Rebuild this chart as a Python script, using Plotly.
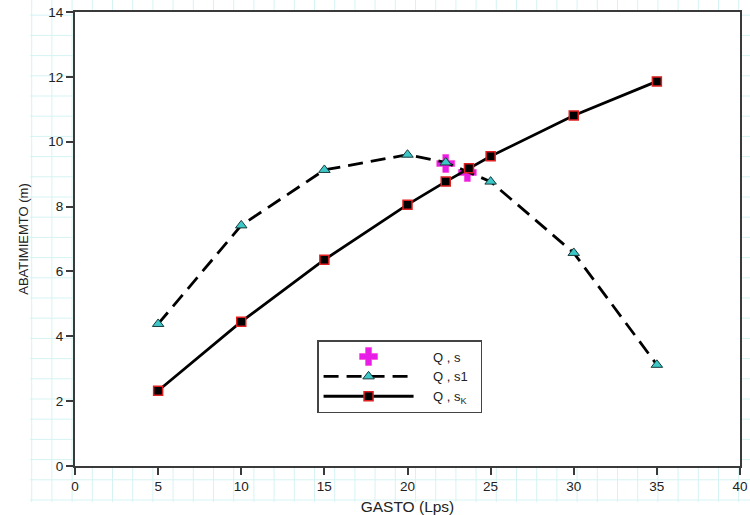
import plotly.graph_objects as go

# Data
q_s = [22.3, 23.6]
s_s = [9.33, 9.05]

q_s1 = [5, 10, 15, 20, 22.3, 25, 30, 35]
s_s1 = [4.38, 7.42, 9.13, 9.6, 9.36, 8.77, 6.57, 3.12]

q_sk = [5, 10, 15, 20, 22.3, 23.7, 25, 30, 35]
s_sk = [2.32, 4.45, 6.36, 8.06, 8.77, 9.18, 9.55, 10.81, 11.86]

x_ticks = [0, 5, 10, 15, 20, 25, 30, 35, 40]
y_ticks = [0, 2, 4, 6, 8, 10, 12, 14]

W, H = 750, 515
ML, MR, MT, MB = 75, 10, 12, 49
PW, PH = W - ML - MR, H - MT - MB

NB = "\u00a0"

fig = go.Figure()

fig.add_trace(go.Scatter(
    x=q_s, y=s_s, mode="markers", name=NB * 4 + "Q , s" + NB * 2,
    marker=dict(symbol="cross", size=15, color="#e81ee8",
                line=dict(color="#ff33cc", width=0.5)),
))
fig.add_trace(go.Scatter(
    x=q_s1, y=s_s1, mode="lines+markers", name=NB * 4 + "Q , s1" + NB * 2,
    line=dict(color="black", width=2.8, dash="15px,8px"),
    marker=dict(symbol="triangle-up", size=10, color="#3cc8c8",
                line=dict(color="#1a3a3a", width=1)),
))
fig.add_trace(go.Scatter(
    x=q_sk, y=s_sk, mode="lines+markers", name=NB * 4 + "Q , s<sub>K</sub>" + NB * 2,
    line=dict(color="black", width=2.8),
    marker=dict(symbol="square", size=9, color="black",
                line=dict(color="#e02020", width=1.5)),
))

# Faint graph-paper background (decorative)
path = []
gx = 31.7
while gx <= W:
    x0 = (gx - ML) / PW
    path.append(f"M {x0} {-(502 - (H - MB)) / PH} L {x0} {(H - MB) / PH}")
    gx += 20.2
gy = 500
while gy >= 0:
    y0 = (H - MB - gy) / PH
    path.append(f"M {(30 - ML) / PW} {y0} L {(W - ML) / PW} {y0}")
    gy -= 20.2
fig.add_shape(type="path", xref="paper", yref="paper", path=" ".join(path),
              line=dict(color="#d6f3f3", width=1), layer="below")
fig.add_shape(type="rect", xref="paper", yref="paper", x0=0, x1=1, y0=0, y1=1,
              fillcolor="white", line=dict(width=0), layer="below")

axis_common = dict(
    showline=True, linecolor="#3a3a3a", linewidth=2, mirror=True,
    ticks="outside", ticklen=7, tickwidth=1.5, tickcolor="#3a3a3a",
    showgrid=False, zeroline=False, automargin=False,
    tickfont=dict(family="Liberation Sans, Arial", size=13.5, color="#222"),
)

fig.update_xaxes(range=[0, 40], tickvals=x_ticks,
                 title=dict(text="GASTO (Lps)", standoff=9,
                            font=dict(family="Liberation Sans, Arial", size=15.5, color="#222")),
                 **axis_common)
fig.update_yaxes(range=[0, 14], tickvals=y_ticks,
                 title=dict(text="ABATIMIEMTO (m)", standoff=17,
                            font=dict(family="Liberation Sans, Arial", size=13, color="#222")),
                 **axis_common)

fig.update_layout(
    width=W, height=H,
    margin=dict(l=ML, r=MR, t=MT, b=MB),
    paper_bgcolor="white", plot_bgcolor="white",
    showlegend=True,
    legend=dict(x=0.364, y=0.2775, xanchor="left", yanchor="top",
                bgcolor="white", bordercolor="#444", borderwidth=1.5,
                itemwidth=90, tracegroupgap=0,
                font=dict(family="Liberation Sans, Arial", size=13, color="#222")),
)

fig.write_html("out.html")
